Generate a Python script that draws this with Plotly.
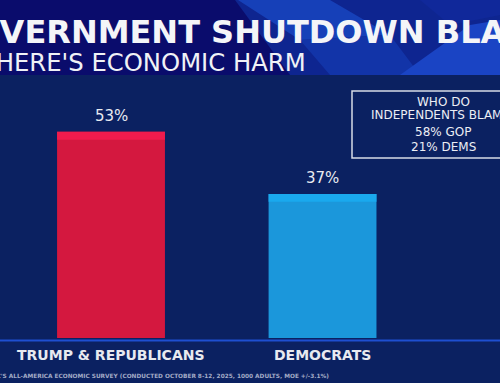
import plotly.graph_objects as go

categories = ["TRUMP & REPUBLICANS", "DEMOCRATS"]
values = [53, 37]
value_labels = ["53%", "37%"]
title_text = "GOVERNMENT SHUTDOWN BLAME"
subtitle_text = "IF THERE'S ECONOMIC HARM"
box_lines = ["WHO DO", "INDEPENDENTS BLAME?", "58% GOP", "21% DEMS"]
footnote = "CNBC'S ALL-AMERICA ECONOMIC SURVEY (CONDUCTED OCTOBER 8-12, 2025, 1000 ADULTS, MOE +/-3.1%)"

W, H = 500, 383
BG = "#0b2161"
body_colors = ["#d4183f", "#1b97db"]
band_colors = ["#f01b4d", "#1aa9ee"]
BAND = 2.0
FONT = "DejaVu Sans"

fig = go.Figure()
fig.add_trace(go.Bar(x=categories, y=values, width=0.51,
                     marker=dict(color=body_colors, line=dict(width=0)),
                     hoverinfo="skip"))
fig.add_trace(go.Bar(x=categories, y=[BAND] * len(values),
                     base=[v - BAND for v in values], width=0.51,
                     marker=dict(color=band_colors, line=dict(width=0)),
                     hoverinfo="skip"))

shapes = []
shapes.append(dict(type="rect", xref="paper", yref="paper", x0=0, x1=1,
                   y0=1 - 75 / H, y1=1, fillcolor="#0a0c6c", line=dict(width=0), layer="below"))
def poly(pts, color):
    d = "M " + " L ".join(f"{x / W:.4f},{1 - y / H:.4f}" for x, y in pts) + " Z"
    return dict(type="path", xref="paper", yref="paper", path=d, fillcolor=color,
                line=dict(width=0), layer="below")
shapes.append(poly([(235, 0), (500, 0), (500, 75), (290, 75)], "#0e2590"))
shapes.append(poly([(238, 0), (330, 0), (390, 35), (300, 40)], "#1640b8"))
shapes.append(poly([(300, 40), (390, 35), (420, 75), (330, 75)], "#1234a8"))
shapes.append(poly([(400, 75), (470, 25), (500, 20), (500, 75)], "#1a44c4"))
shapes.append(poly([(420, 0), (500, 0), (500, 15), (450, 25)], "#10289a"))
shapes.append(dict(type="line", xref="paper", yref="y", x0=0, x1=1, y0=-0.65, y1=-0.65,
                   line=dict(color="#1e4fd0", width=2)))
shapes.append(dict(type="rect", xref="paper", yref="paper", x0=352 / W, x1=540 / W,
                   y0=1 - 158 / H, y1=1 - 91 / H, line=dict(color="#d8dce6", width=1.5),
                   fillcolor="rgba(0,0,0,0)"))

ann = []
ann.append(dict(text=f"<b>{title_text}</b>", x=253 / W, y=1 - 32 / H, xref="paper", yref="paper",
                xanchor="center", yanchor="middle", showarrow=False,
                font=dict(family=FONT, size=32, color="#f4f5f8")))
ann.append(dict(text=subtitle_text, x=308 / W, y=1 - 62 / H, xref="paper", yref="paper",
                xanchor="right", yanchor="middle", showarrow=False,
                font=dict(family=FONT, size=24.3, color="#f0f2f6")))
for c, v, lab in zip(categories, values, value_labels):
    ann.append(dict(text=lab, x=c, y=v, xref="x", yref="y", yanchor="bottom", yshift=5,
                    showarrow=False, font=dict(family=FONT, size=15, color="#e8eaf0")))
    ann.append(dict(text=f"<b>{c}</b>", x=c, y=0, xref="x", yref="y", yanchor="top", yshift=-7,
                    showarrow=False, font=dict(family=FONT, size=14, color="#e8eaf0")))
box_y = [102, 115, 132, 147]
for t, yy in zip(box_lines, box_y):
    ann.append(dict(text=t, x=443 / W, y=1 - yy / H, xref="paper", yref="paper",
                    xanchor="center", yanchor="middle", showarrow=False,
                    font=dict(family=FONT, size=12, color="#eceef4")))
ann.append(dict(text=f"<b>{footnote}</b>", x=331 / W, y=1 - 375.5 / H, xref="paper", yref="paper",
                xanchor="right", yanchor="middle", showarrow=False,
                font=dict(family=FONT, size=5.8, color="#a3abc6")))

fig.update_layout(
    width=W, height=H, margin=dict(l=0, r=0, t=0, b=0),
    paper_bgcolor=BG, plot_bgcolor=BG, showlegend=False, barmode="overlay",
    xaxis=dict(range=[-0.5248, 1.839], visible=False, fixedrange=True),
    yaxis=dict(range=[-11.57, 86.9], visible=False, fixedrange=True),
    shapes=shapes, annotations=ann,
)
fig.write_html("out.html", config=dict(displayModeBar=False),
               post_script="document.body.style.margin='0';document.body.style.background='" + BG + "';")
